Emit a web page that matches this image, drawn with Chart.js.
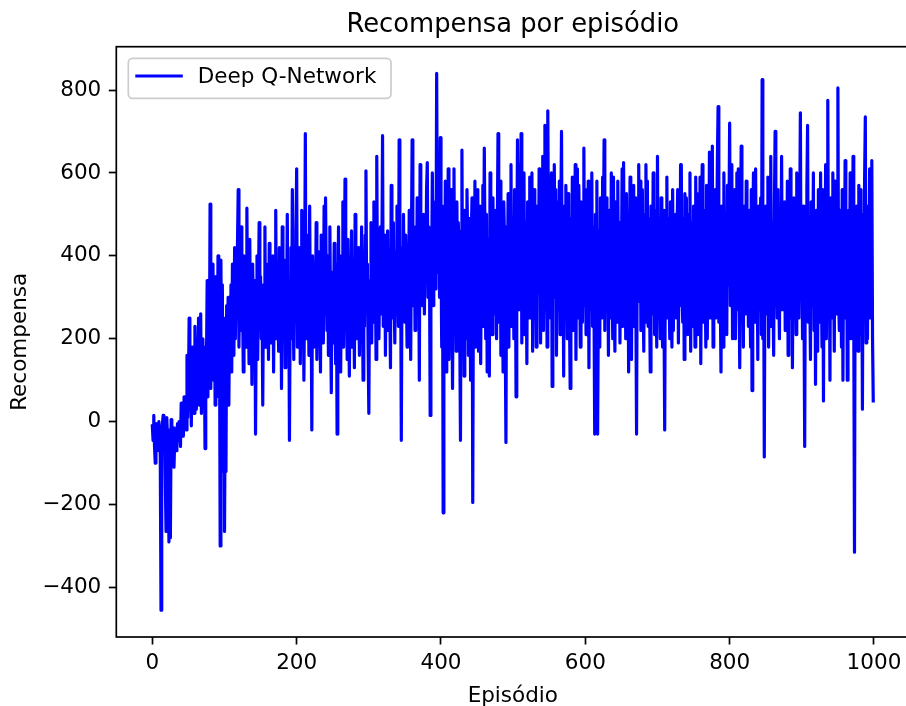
<!DOCTYPE html>
<html><head><meta charset="utf-8">
<script src="https://cdn.jsdelivr.net/npm/chart.js@4/dist/chart.umd.min.js"></script>
<style>
html,body{margin:0;padding:0;background:#fff;overflow:hidden;width:906px;height:706px}
#wrap{position:absolute;left:0;top:0;width:912px;height:706px}
canvas{display:block}
</style>
</head><body><div id="wrap"><canvas id="c" width="912" height="706" style="width:912px;height:706px"></canvas></div>
<script>
const TITLE = "Recompensa por episódio";
const X_LABEL = "Episódio";
const Y_LABEL = "Recompensa";
const SERIES_NAME = "Deep Q-Network";
const X_TICKS = [0, 200, 400, 600, 800, 1000];
const Y_TICKS = [-400, -200, 0, 200, 400, 600, 800];

const rewards = [
-10,-45,15,-60,-100,-25,-5,-70,-40,0,-20,-85,-455,-60,-5,15,-45,-10,-150,-265,10,-40,-70,-290,-20,
-280,5,-30,-60,-15,-110,-40,-25,-70,-20,-5,-45,0,-30,-60,45,-20,10,-35,60,20,40,-20,160,10,
80,250,40,120,-10,180,60,140,20,230,100,30,190,90,250,40,150,260,20,120,200,60,180,-65,100,
150,340,60,250,120,525,80,300,180,380,100,280,40,350,200,130,400,60,260,-300,390,90,330,-120,250,
-265,50,-120,280,150,300,40,260,180,330,120,380,250,160,420,200,330,260,430,560,180,350,280,470,220,
300,120,400,250,330,180,515,270,350,140,440,230,310,90,380,260,180,340,-30,270,400,150,320,480,240,
350,200,290,40,330,220,470,180,380,260,310,150,430,240,350,190,280,400,120,330,250,510,200,360,280,
170,420,250,350,80,470,300,210,390,130,330,260,500,180,340,-45,280,420,200,560,310,150,380,240,460,
610,180,350,260,420,140,300,510,230,380,100,320,695,200,450,280,360,160,520,240,310,-20,400,270,180,
350,230,480,150,300,410,200,330,120,450,280,370,190,520,260,540,340,220,400,160,310,470,250,70,360,
280,190,430,320,140,380,-30,260,470,210,350,120,400,290,530,180,330,585,250,370,150,440,270,110,350,
240,460,180,320,380,130,500,270,350,200,420,290,160,390,250,470,310,100,360,230,450,605,280,380,180,
20,340,260,480,190,400,310,530,240,370,150,640,290,420,200,350,470,260,380,690,230,330,450,160,400,
300,460,220,380,290,130,570,340,250,480,310,190,410,270,520,350,230,680,300,420,-45,380,260,500,330,
240,450,320,180,400,290,510,370,150,430,680,280,360,470,220,390,310,540,260,410,100,620,340,450,280,
380,500,260,430,340,560,625,300,470,390,15,440,350,600,280,480,400,530,320,840,420,360,570,300,685,
410,180,520,-220,460,250,580,120,440,380,610,150,420,230,560,290,80,400,610,250,450,170,530,310,480,
390,220,-45,460,655,250,420,110,510,380,200,560,430,160,490,370,100,450,540,-195,410,240,580,180,460,
350,560,170,520,400,140,460,230,570,290,660,410,200,500,120,440,380,110,600,320,470,210,540,260,430,
370,510,200,450,695,240,420,580,160,480,390,120,530,440,210,-50,470,300,550,180,460,360,620,230,490,
410,200,560,440,60,380,680,270,340,620,420,695,190,450,370,600,210,480,400,140,530,330,250,590,460,
380,600,170,440,560,250,470,180,520,310,330,610,450,190,480,390,640,220,460,715,270,500,180,750,420,
340,510,250,600,85,480,300,620,350,560,160,530,420,270,580,210,490,700,290,450,110,520,260,570,410,
200,550,430,260,80,490,310,590,220,460,380,620,150,440,610,250,570,400,180,530,320,240,500,660,280,
450,210,560,300,580,130,520,270,440,600,230,470,290,-30,500,320,580,-30,260,460,180,540,310,250,590,
400,680,220,470,540,280,450,160,510,420,250,600,340,200,590,290,170,530,360,240,580,310,480,190,440,
370,610,230,625,320,460,200,550,280,490,120,360,590,440,150,500,280,570,230,540,310,-30,460,290,620,
350,580,220,400,560,330,170,500,240,620,310,580,230,490,300,120,520,340,260,600,470,210,510,320,180,
640,260,480,320,200,540,450,180,510,270,-20,470,300,590,250,490,330,200,530,360,180,560,220,470,310,
500,250,440,560,190,470,280,620,620,310,240,490,150,550,280,540,330,210,500,360,600,170,480,320,230,
520,340,180,590,300,470,210,550,260,590,140,450,620,300,240,510,360,180,570,200,480,330,650,250,500,
320,665,180,500,300,560,250,400,630,760,240,470,310,120,520,360,180,600,330,250,500,210,570,330,480,
720,280,460,620,200,480,310,560,200,440,600,270,610,320,130,470,665,290,450,180,520,330,260,580,300,
470,230,510,320,180,560,75,460,600,240,440,610,290,480,150,520,330,270,540,210,825,200,460,-85,400,
520,260,450,590,180,470,300,640,230,480,320,160,510,700,280,450,250,560,330,200,490,310,640,270,460,
300,530,220,470,320,580,160,450,290,610,250,480,130,440,540,280,460,210,600,320,500,250,470,745,300,
450,200,520,280,-60,470,310,560,715,240,490,320,150,530,360,280,600,220,480,90,510,330,170,560,310,
240,600,340,180,560,50,470,310,620,200,460,775,290,480,100,540,320,250,600,350,170,580,300,470,260,
805,300,220,510,350,180,560,100,470,320,630,250,480,100,440,510,280,600,200,460,310,640,250,-315,480,
260,520,320,170,570,300,560,210,450,30,500,280,580,735,190,440,200,520,310,610,250,470,630,200,50
];
const episodes = rewards.map((_, i) => i);

const FONT = 'DejaVu Sans';
const BASE = 21.5;
Chart.defaults.font.family = FONT;
Chart.defaults.color = '#000';

const fmt = v => (v < 0 ? '\u2212' + Math.abs(v) : String(v));

const framePlugin = {
  id: 'frameAndLegend',
  afterDatasetsDraw(chart) {
    const {ctx, chartArea: a} = chart;
    ctx.save();
    ctx.strokeStyle = '#000';
    ctx.lineWidth = 1.7;
    ctx.strokeRect(a.left, a.top, a.right - a.left, a.bottom - a.top);
    const bx = a.left + 12, by = a.top + 11.6, bw = 262.7, bh = 40, r = 4.3;
    ctx.beginPath();
    ctx.moveTo(bx + r, by);
    ctx.lineTo(bx + bw - r, by);
    ctx.arcTo(bx + bw, by, bx + bw, by + r, r);
    ctx.lineTo(bx + bw, by + bh - r);
    ctx.arcTo(bx + bw, by + bh, bx + bw - r, by + bh, r);
    ctx.lineTo(bx + r, by + bh);
    ctx.arcTo(bx, by + bh, bx, by + bh - r, r);
    ctx.lineTo(bx, by + r);
    ctx.arcTo(bx, by, bx + r, by, r);
    ctx.closePath();
    ctx.fillStyle = 'rgba(255,255,255,0.8)';
    ctx.fill();
    ctx.strokeStyle = '#cccccc';
    ctx.lineWidth = 1.7;
    ctx.stroke();
    ctx.beginPath();
    ctx.strokeStyle = '#0000ff';
    ctx.lineWidth = 3.2;
    ctx.lineCap = 'butt';
    ctx.moveTo(bx + 7, by + 17.7);
    ctx.lineTo(bx + 54.5, by + 17.7);
    ctx.stroke();
    ctx.fillStyle = '#000';
    ctx.font = BASE + 'px "' + FONT + '"';
    ctx.textBaseline = 'alphabetic';
    ctx.textAlign = 'left';
    ctx.fillText(SERIES_NAME, bx + 69.5, by + 24.7);
    ctx.restore();
  }
};

new Chart(document.getElementById('c'), {
  type: 'line',
  data: {
    datasets: [{
      label: SERIES_NAME,
      data: episodes.map((e, i) => ({x: e, y: rewards[i]})),
      borderColor: '#0000ff',
      backgroundColor: '#0000ff',
      borderWidth: 3.2,
      borderJoinStyle: 'round',
      borderCapStyle: 'square',
      pointRadius: 0,
      pointHoverRadius: 0,
      tension: 0,
      fill: false
    }]
  },
  options: {
    responsive: false,
    animation: false,
    devicePixelRatio: 1,
    events: [],
    layout: {padding: {left: 0, right: 2.7, top: 0, bottom: 0}},
    plugins: {
      legend: {display: false},
      tooltip: {enabled: false},
      title: {
        display: true,
        text: TITLE,
        fullSize: false,
        color: '#000',
        font: {family: FONT, size: 25.8, weight: 'normal', lineHeight: 1.2},
        padding: {top: 9.4, bottom: 6.34}
      }
    },
    scales: {
      x: {
        type: 'linear',
        min: -49.95,
        max: 1048.95,
        afterBuildTicks: s => { s.ticks = X_TICKS.map(v => ({value: v})); },
        afterFit: s => { s.height = 69; },
        ticks: {
          callback: v => fmt(v),
          font: {family: FONT, size: BASE},
          color: '#000',
          padding: 6,
          maxRotation: 0,
          autoSkip: false
        },
        grid: {display: true, drawOnChartArea: false, drawTicks: true, tickLength: 7.5, tickWidth: 1.7, tickColor: '#000', color: '#000'},
        border: {display: false},
        title: {display: true, text: X_LABEL, color: '#000', font: {family: FONT, size: BASE, lineHeight: 1.2}, padding: {top: 0, bottom: -3}}
      },
      y: {
        type: 'linear',
        min: -519.5,
        max: 904.5,
        afterBuildTicks: s => { s.ticks = Y_TICKS.map(v => ({value: v})); },
        afterFit: s => { s.width = 116.3; },
        ticks: {
          callback: v => fmt(v),
          font: {family: FONT, size: BASE},
          color: '#000',
          padding: 7.5,
          autoSkip: false
        },
        grid: {display: true, drawOnChartArea: false, drawTicks: true, tickLength: 7.5, tickWidth: 1.7, tickColor: '#000', color: '#000'},
        border: {display: false},
        title: {display: true, text: Y_LABEL, color: '#000', font: {family: FONT, size: BASE, lineHeight: 1.2}, padding: {top: 7.7, bottom: 0}}
      }
    }
  },
  plugins: [framePlugin]
});
</script>
</body></html>
